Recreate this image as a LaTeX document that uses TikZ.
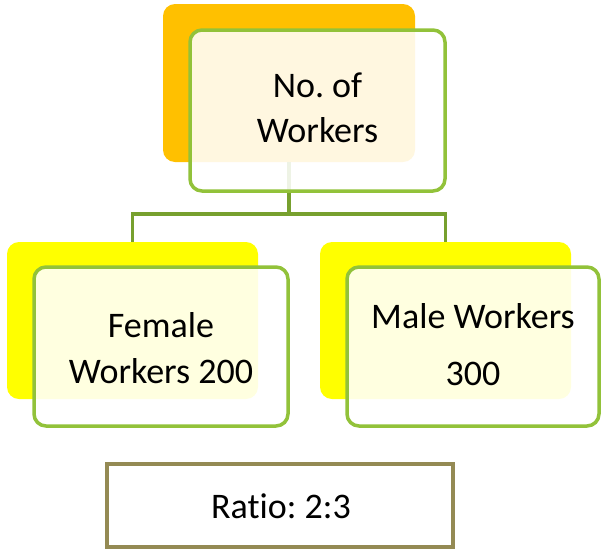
\documentclass[tikz,border=0pt]{standalone}
\usepackage{fontspec}
\setmainfont{Carlito}[Ligatures={NoCommon}]
\frenchspacing
\definecolor{backorange}{HTML}{FFC000}
\definecolor{backyellow}{HTML}{FFFF00}
\definecolor{boxgreen}{HTML}{92C23A}
\definecolor{linkgreen}{HTML}{77A02E}
\definecolor{ratioolive}{HTML}{948A54}
\tikzset{
  backbox/.style={fill=#1, draw=none, rounded corners=12pt, inner sep=0pt},
  frontbox/.style={draw=boxgreen, line width=3.5pt, fill=white, fill opacity=0.88,
    rounded corners=12pt, inner sep=0pt},
  ratiobox/.style={draw=ratioolive, line width=3.5pt, fill=white, inner sep=0pt},
  lbl/.style={font=\fontsize{36}{45}\selectfont\frenchspacing, align=center, inner sep=0pt, text=black},
  link/.style={draw=linkgreen, line width=3.5pt}
}
\begin{document}
\begin{tikzpicture}[x=1pt,y=-1pt]
\useasboundingbox (0,0) rectangle (602,552);
% back boxes
\node[backbox=backorange, minimum width=252pt, minimum height=158pt] (topback) at (289,83) {};
\node[backbox=backyellow, minimum width=251pt, minimum height=157pt] (leftback) at (132.5,320.5) {};
\node[backbox=backyellow, minimum width=251pt, minimum height=157pt] (rightback) at (445.5,320.5) {};
% connectors
\coordinate (bus) at (289,214);
\draw[link] (topback.south) -- (bus) -| (leftback.north);
\draw[link] (bus) -| (rightback.north);
% front boxes
\node[frontbox, minimum width=255pt, minimum height=161pt] (topfront) at (317.5,110.5) {};
\node[frontbox, minimum width=254pt, minimum height=159pt] (leftfront) at (161,346.5) {};
\node[frontbox, minimum width=252pt, minimum height=159pt] (rightfront) at (473,346.5) {};
\node[ratiobox, minimum width=346pt, minimum height=83pt] (ratio) at (280,505.5) {};
% texts
\node[lbl] (toptext) at (317.5,110.5) {\strut No. of\\\strut Workers};
\node[lbl] (lefttext) at (161,351) {\strut Female\\[1pt]\strut Workers 200};
\node[lbl] (righttext) at (473,347.5) {\strut Male Workers\\[12pt]\strut 300};
\node[lbl] (ratiotext) at (281,509) {\strut Rat\kern0pt io: 2:3};
\end{tikzpicture}
\end{document}
